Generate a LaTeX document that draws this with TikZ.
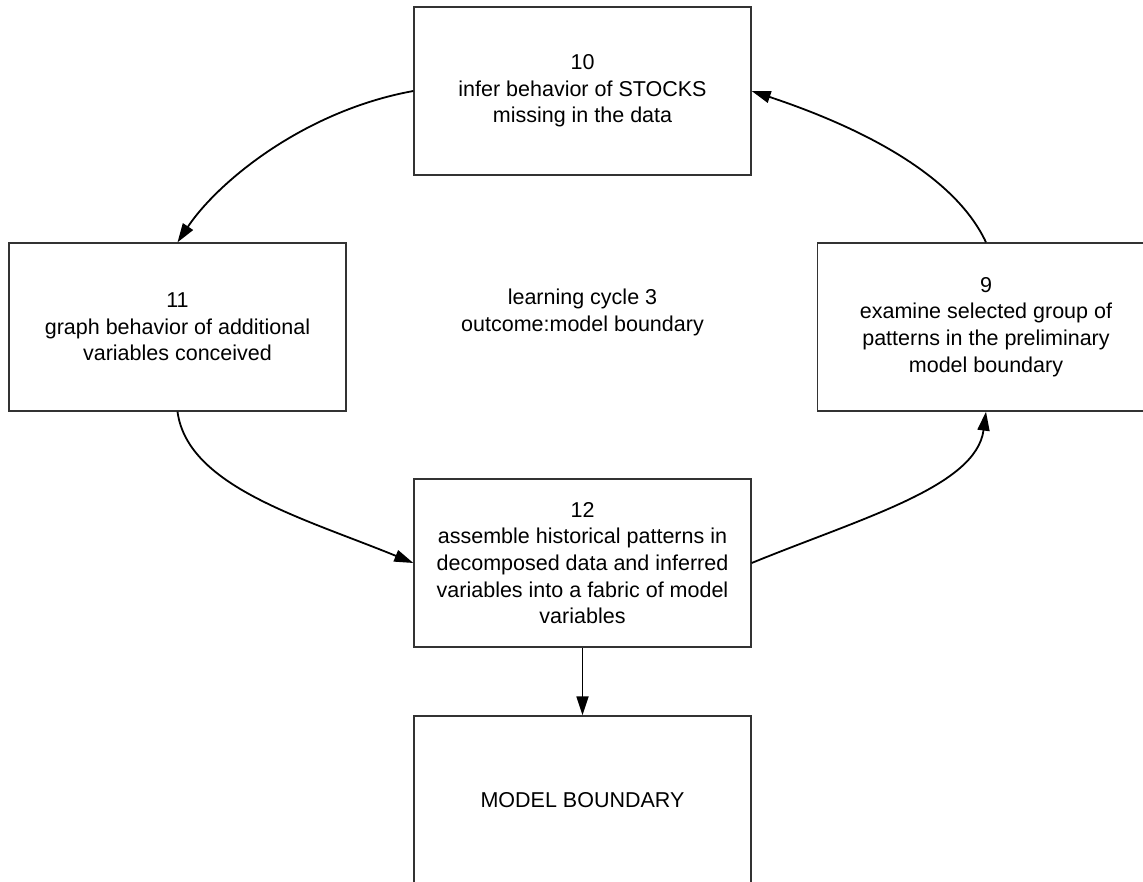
\documentclass[tikz,border=0pt]{standalone}
\usepackage{fontspec}
\setmainfont{Liberation Sans}
\usetikzlibrary{arrows.meta}
\tikzset{
  boxnode/.style={draw=black!80, line width=1.3pt, minimum width=337pt, minimum height=168pt,
    inner sep=0pt, align=center, font=\fontsize{21.5}{26.7}\selectfont},
  txt/.style={align=center, inner sep=0pt, font=\fontsize{21.5}{26.7}\selectfont},
  conn/.style={line width=1.8pt, -{Triangle[length=19pt,width=12pt]}}
}
\begin{document}
\begin{tikzpicture}[x=1pt,y=-1pt]
\clip (0,0) rectangle (1143,882);
\fill[white] (0,0) rectangle (1143,882);
\node[boxnode] (b10) at (582.5,91) {10\\infer behavior of STOCKS\\missing in the data};
\node[boxnode] (b11) at (177.5,327) {11\\graph behavior of additional\\variables conceived};
\node[boxnode] (b9) at (986,327) {9\\examine selected group of\\patterns in the preliminary\\model boundary};
\node[boxnode] (b12) at (582.5,563) {12\\assemble historical patterns in\\decomposed data and inferred\\variables into a fabric of model\\variables};
\node[boxnode] (bmb) at (582.5,800) {MODEL BOUNDARY};
\node[txt] (lc) at (582.5,312.5) {learning cycle 3\\outcome:model boundary};
\draw[conn] (b10.west) .. controls +(-110,20) and +(40,-60) .. (b11.north);
\draw[conn] (b9.north) .. controls +(-35,-75) and +(90,30) .. (b10.east);
\draw[conn] (b11.south) .. controls +(10,75) and +(-110,-45) .. (b12.west);
\draw[conn] (b12.east) .. controls +(110,-45) and +(-10,75) .. (b9.south);
\draw[conn] (b12.south) -- (bmb.north);
\end{tikzpicture}
\end{document}
